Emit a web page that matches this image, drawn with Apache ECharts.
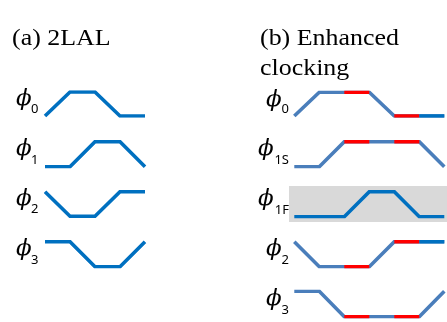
<!DOCTYPE html>
<html><head><meta charset="utf-8">
<script src="https://cdn.jsdelivr.net/npm/echarts@6/dist/echarts.min.js"></script>
<style>html,body{margin:0;padding:0;background:#fff}#c{width:447px;height:322px}</style>
</head><body><div id="c"></div>
<script>
// ---- data ----
const titleA = '(a) 2LAL';
const titleB1 = '(b) Enhanced';
const titleB2 = 'clocking';
const leftNames = ['0', '1', '2', '3'];
const leftLevels = [
  [0, 1, 1, 0, 0],
  [0, 0, 1, 1, 0],
  [1, 0, 0, 1, 1],
  [1, 1, 0, 0, 1]
];
const rightNames = ['0', '1S', '1F', '2', '3'];
const rightLevels = [
  [0, 1, 1, 1, 0, 0, 0],
  [0, 0, 1, 1, 1, 1, 0],
  [0, 0, 0, 1, 1, 0, 0],
  [1, 0, 0, 0, 1, 1, 1],
  [1, 1, 0, 0, 0, 0, 1]
];
// segment colour codes: b = steel blue, r = red, d = dark blue
const rightSegs = [
  ['b', 'b', 'r', 'b', 'r', 'd'],
  ['b', 'b', 'r', 'b', 'r', 'b'],
  ['d', 'd', 'd', 'd', 'd', 'd'],
  ['b', 'b', 'r', 'b', 'r', 'd'],
  ['b', 'b', 'r', 'b', 'r', 'b']
];

// ---- layout / style ----
const COL = { b: '#4A7EBB', r: '#FF0000', d: '#0070C0' };
const LW = 3.6;
const leftHigh = [92, 141.7, 191.7, 241.7];
const leftLow = [116, 166.7, 216.2, 266.7];
const rightHigh = [92.3, 141.7, 191.7, 241.7, 291.3];
const rightLow = [116, 166.7, 216.7, 266.7, 316.7];

const grids = [], xAxes = [], yAxes = [], series = [], graphics = [];

function addRow(levels, segs, baseColor, left, width, top, height) {
  const gi = grids.length;
  grids.push({ left: left, top: top, width: width, height: height, containLabel: false });
  xAxes.push({ gridIndex: gi, type: 'value', min: 0, max: levels.length - 1, show: false });
  yAxes.push({ gridIndex: gi, type: 'value', min: 0, max: 1, show: false });
  const pts = levels.map((v, i) => [i, v]);
  series.push({
    type: 'line', xAxisIndex: gi, yAxisIndex: gi, data: pts, showSymbol: false,
    silent: true, animation: false,
    lineStyle: { color: baseColor, width: LW, cap: 'butt', join: 'miter' }
  });
  segs.forEach((s, i) => {
    if (COL[s] !== baseColor) {
      series.push({
        type: 'line', xAxisIndex: gi, yAxisIndex: gi, data: [pts[i], pts[i + 1]],
        showSymbol: false, silent: true, animation: false, z: 3,
        lineStyle: { color: COL[s], width: LW, cap: 'butt' }
      });
    }
  });
}

leftLevels.forEach((lv, r) => {
  addRow(lv, lv.slice(1).map(() => 'd'), COL.d, 45, 100, leftHigh[r], leftLow[r] - leftHigh[r]);
});
rightLevels.forEach((lv, r) => {
  const base = r === 2 ? COL.d : COL.b;
  addRow(lv, rightSegs[r], base, 294.3, 150, rightHigh[r], rightLow[r] - rightHigh[r]);
});

// grey band behind phi_1F
graphics.push({ type: 'rect', z: -10, shape: { x: 289, y: 186, width: 158, height: 36 }, style: { fill: '#D9D9D9' } });

const phiFont = 'italic 23px "DejaVu Serif"';
const subFont = '13px "Noto Sans"';
function addLabel(phiX, subX, sub, high, low, alignSub) {
  graphics.push({ type: 'text', left: phiX, top: high - 4, z: 10,
    style: { text: 'ϕ', font: phiFont, fill: '#000' } });
  graphics.push({ type: 'text', x: subX, y: low, z: 10,
    style: { text: sub, font: subFont, fill: '#000', textAlign: alignSub, textVerticalAlign: 'bottom' } });
}
leftNames.forEach((n, r) => addLabel(16, 31, n, leftHigh[r], leftLow[r], 'left'));
rightNames.forEach((n, r) => addLabel(n.length > 1 ? 258 : 266, 289, n, rightHigh[r], rightLow[r], 'right'));

const tFont = '24px "Liberation Serif"';
function addTitle(txt, x, y) {
  graphics.push({ type: 'text', x: x, y: y, scaleX: 1.08, scaleY: 1,
    style: { text: txt, font: tFont, fill: '#000', textVerticalAlign: 'alphabetic' } });
}
addTitle(titleA, 12, 27);
addTitle(titleB1, 260, 27);
addTitle(titleB2, 260, 57);

const chart = echarts.init(document.getElementById('c'), null, { renderer: 'canvas' });
chart.setOption({
  animation: false,
  backgroundColor: '#fff',
  grid: grids, xAxis: xAxes, yAxis: yAxes, series: series, graphic: graphics
});
</script></body></html>
